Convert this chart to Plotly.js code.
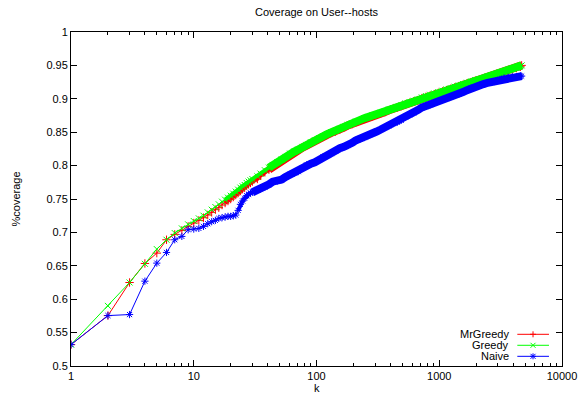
<!DOCTYPE html>
<html>
<head>
<meta charset="utf-8">
<script src="https://cdn.plot.ly/plotly-3.0.1.min.js"></script>
<style>html,body{margin:0;padding:0;background:#fff;}#chart{width:585px;height:396px;}</style>
</head>
<body>
<div id="chart"></div>
<script>
// ---- data ----
const kValues = [1,2,3,4,5,6,7,8,9,10,11,12,13,14,15,16,17,18,19,20,21,22,23,24,25,26,27,28,29,30,
  33,35,38,41,44,48,52,56,61,66,71,77,83,90,97,105,113,122,132,143,155,167,180,195,210,227,245,265,286,309,
  334,361,390,421,455,491,531,573,619,669,722,780,843,910,983,1062,1147,1239,1338,1445,1561,1686,1821,1967,2124,
  2294,2478,2676,2890,3121,3371,3641,3932,4247,4587,4690];

const mrGreedy = [0.532,0.5755,0.625,0.6535,0.669,0.689,0.697,0.703,0.709,0.714,0.718,0.722,0.726,0.730,0.734,0.737,0.741,0.744,0.747,0.750,0.753,0.756,0.759,0.762,0.765,0.767,0.770,0.772,0.774,0.776,
  0.780,0.785,0.790,0.794,0.798,0.803,0.807,0.811,0.816,0.820,0.823,0.827,0.830,0.834,0.837,0.840,0.843,0.846,0.849,0.851,
  0.854,0.857,0.860,0.862,0.865,0.867,0.870,0.872,0.874,0.876,0.878,0.880,0.883,0.885,0.887,0.889,0.892,0.894,0.896,0.898,
  0.901,0.903,0.905,0.907,0.909,0.911,0.913,0.915,0.917,0.919,0.921,0.923,0.925,0.927,0.928,0.930,0.932,0.934,0.936,0.938,
  0.940,0.942,0.944,0.946,0.948,0.950];

const greedy = [0.532,0.590,0.625,0.653,0.675,0.689,0.699,0.706,0.712,0.717,0.721,0.725,0.730,0.734,0.738,0.742,0.746,0.749,0.752,0.755,0.758,0.761,0.764,0.767,0.769,0.771,0.774,0.776,0.778,0.780,
  0.784,0.788,0.793,0.797,0.801,0.805,0.809,0.813,0.818,0.821,0.824,0.828,0.831,0.835,0.838,0.841,0.844,0.847,0.850,0.852,
  0.855,0.858,0.861,0.863,0.866,0.868,0.871,0.873,0.875,0.877,0.879,0.881,0.884,0.886,0.888,0.890,0.893,0.895,0.897,0.899,
  0.902,0.904,0.906,0.908,0.910,0.912,0.914,0.916,0.918,0.920,0.922,0.924,0.926,0.928,0.929,0.931,0.933,0.935,0.937,0.939,
  0.941,0.943,0.945,0.947,0.949,0.950];

const naive = [0.532,0.5755,0.577,0.627,0.654,0.670,0.689,0.694,0.704,0.705,0.706,0.709,0.713,0.716,0.718,0.721,0.722,0.723,0.724,0.724,0.725,0.726,0.733,0.742,0.747,0.751,0.755,0.757,0.759,0.760,
  0.763,0.765,0.768,0.772,0.776,0.777,0.779,0.783,0.787,0.789,0.791,0.796,0.801,0.803,0.805,0.809,0.813,0.815,0.818,0.822,
  0.826,0.828,0.830,0.834,0.838,0.840,0.842,0.845,0.848,0.851,0.854,0.857,0.860,0.863,0.865,0.868,0.873,0.876,0.879,0.883,
  0.887,0.889,0.891,0.894,0.897,0.899,0.901,0.903,0.905,0.907,0.910,0.913,0.916,0.918,0.920,0.922,0.924,0.925,0.927,0.929,
  0.931,0.932,0.933,0.933,0.934,0.934];

const seriesNames = ["MrGreedy","Greedy","Naive"];
const xTickVals = [1,10,100,1000,10000];
const xTickText = ["1","10","100","1000","10000"];
const xTitle = "k";
const yTitle = "%coverage";
const chartTitle = "Coverage on User--hosts";

// ---- styles ----
const colors = ["#ff0000","#00ff00","#0000ff"];
const symbols = ["cross-thin-open","x-thin-open","asterisk-open"];
const FONT = "Liberation Sans, Arial, Helvetica, sans-serif";
// where the thousands of overlapping markers of the original merge into a band
const bandThinStartK = [18, 18, 23];
const bandThickStartK = [40, 40, 30];

const seriesData = [mrGreedy, greedy, naive];
const traces = [];
seriesData.forEach((ys, i) => {
  [[bandThinStartK[i], 4], [bandThickStartK[i], 8]].forEach(([k0, w]) => {
    const start = kValues.findIndex(k => k >= k0);
    traces.push({
      type: "scatter", mode: "lines", hoverinfo: "skip", showlegend: false,
      x: kValues.slice(start), y: ys.slice(start),
      line: {color: colors[i], width: w}
    });
  });
  traces.push({
    type: "scatter", mode: "lines+markers", name: seriesNames[i], showlegend: false,
    x: kValues, y: ys,
    line: {color: colors[i], width: 1},
    marker: {symbol: symbols[i], size: 6, color: colors[i], line: {color: colors[i], width: 1}}
  });
});

const minorVals = [];
for (let d = 1; d <= 1000; d *= 10) for (let m = 2; m <= 9; m++) minorVals.push(m * d);

// gnuplot-style legend: text on the left, sample on the right
const legY = [0.0949, 0.062, 0.029];
const legTextX = 0.8955, legX0 = 0.909, legX1 = 0.9735, legMX = 0.941;
const annotations = seriesNames.map((n, i) => ({
  text: n, xref: "paper", yref: "paper", x: legTextX, y: legY[i],
  xanchor: "right", yanchor: "middle", showarrow: false,
  font: {family: FONT, size: 11, color: "#000"}
}));
// x-axis title placed low, at the bottom edge of the canvas as in the original
annotations.push({
  text: xTitle, xref: "paper", yref: "paper", x: 0.5, y: -0.0898,
  xanchor: "center", yanchor: "bottom", showarrow: false,
  font: {family: FONT, size: 11, color: "#000"}
});
const shapes = [];
function seg(i, x0, y0, x1, y1) {
  shapes.push({type: "line", xref: "paper", yref: "paper", xsizemode: "pixel", ysizemode: "pixel",
    xanchor: legMX, yanchor: legY[i], x0: x0, y0: y0, x1: x1, y1: y1,
    line: {color: colors[i], width: 1}});
}
seriesNames.forEach((n, i) => {
  shapes.push({type: "line", xref: "paper", yref: "paper", x0: legX0, x1: legX1, y0: legY[i], y1: legY[i],
    line: {color: colors[i], width: 1}});
  if (i === 0 || i === 2) { seg(i, -3, 0, 3, 0); seg(i, 0, -3, 0, 3); }
  if (i === 1 || i === 2) { seg(i, -2.5, -2.5, 2.5, 2.5); seg(i, -2.5, 2.5, 2.5, -2.5); }
});

const axisCommon = {
  showline: true, linecolor: "#000", linewidth: 1, mirror: "ticks",
  ticks: "inside", ticklen: 6, tickcolor: "#000", tickwidth: 1,
  showgrid: false, zeroline: false,
  tickfont: {family: FONT, size: 11, color: "#000"}
};

const layout = {
  width: 585, height: 396,
  margin: {l: 71, r: 23, t: 32, b: 30, pad: 0},
  paper_bgcolor: "#fff", plot_bgcolor: "#fff",
  font: {family: FONT, size: 11, color: "#000"},
  title: {text: chartTitle, x: 0.5, xref: "paper", y: 1 - 12 / 396, yref: "container",
    yanchor: "middle", font: {family: FONT, size: 11, color: "#000"}},
  xaxis: Object.assign({}, axisCommon, {
    type: "log", range: [0, 4], tickmode: "array", tickvals: xTickVals, ticktext: xTickText,
    minor: {ticks: "inside", ticklen: 3, tickcolor: "#000", tickvals: minorVals, showgrid: false},
    automargin: false
  }),
  yaxis: Object.assign({}, axisCommon, {
    range: [0.5, 1], tick0: 0.5, dtick: 0.05,
    title: {text: yTitle, standoff: 23, font: {family: FONT, size: 11, color: "#000"}},
    automargin: false
  }),
  annotations: annotations,
  shapes: shapes
};

Plotly.newPlot("chart", traces, layout, {displayModeBar: false, staticPlot: true});
</script>
</body>
</html>
